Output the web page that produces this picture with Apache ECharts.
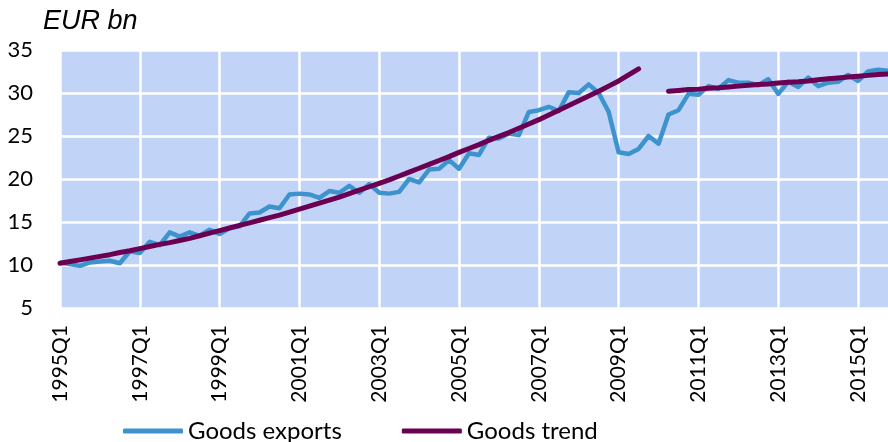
<!DOCTYPE html>
<html>
<head>
<meta charset="utf-8">
<script src="https://cdn.jsdelivr.net/npm/echarts@6/dist/echarts.min.js"></script>
<style>
  html, body { margin: 0; padding: 0; background: #fff; }
  #chart { width: 888px; height: 442px; }
</style>
</head>
<body>
<div id="chart"></div>
<script>
// quarters 1995Q1 .. 2015Q4
const years = [];
for (let y = 1995; y <= 2015; y++) years.push(y);
const quarters = [];
years.forEach(y => { for (let q = 1; q <= 4; q++) quarters.push(y + 'Q' + q); });

const goodsExports = [
  10.3, 10.1, 9.9, 10.3,
  10.4, 10.5, 10.2, 11.6,
  11.4, 12.7, 12.3, 13.8,
  13.3, 13.8, 13.4, 14.1,
  13.6, 14.3, 14.5, 16.0,
  16.1, 16.8, 16.6, 18.2,
  18.3, 18.2, 17.8, 18.6,
  18.4, 19.2, 18.4, 19.4,
  18.4, 18.3, 18.5, 20.0,
  19.6, 21.1, 21.2, 22.2,
  21.2, 23.0, 22.8, 24.8,
  24.7, 25.3, 25.1, 27.8,
  28.0, 28.4, 27.9, 30.1,
  30.0, 31.0, 30.0, 27.8,
  23.1, 22.9, 23.5, 25.0,
  24.1, 27.5, 28.0, 29.9,
  29.8, 30.8, 30.5, 31.5,
  31.2, 31.2, 30.9, 31.6,
  29.9, 31.3, 30.7, 31.8,
  30.8, 31.2, 31.3, 32.1,
  31.4, 32.5, 32.7, 32.6
];

const goodsTrend = [
  10.2, 10.4, 10.6, 10.8,
  11.0, 11.2, 11.45, 11.65,
  11.9, 12.15, 12.4, 12.6,
  12.85, 13.1, 13.4, 13.7,
  14.0, 14.3, 14.6, 14.9,
  15.2, 15.5, 15.8, 16.15,
  16.5, 16.85, 17.2, 17.55,
  17.9, 18.3, 18.7, 19.1,
  19.5, 19.9, 20.35, 20.8,
  21.25, 21.7, 22.15, 22.6,
  23.1, 23.55, 24.0, 24.5,
  24.95, 25.4, 25.9, 26.4,
  26.9, 27.45, 28.0, 28.55,
  29.1, 29.65, 30.2, 30.8,
  31.4, 32.1, 32.8, null,
  null, 30.2, 30.3, 30.4,
  30.45, 30.55, 30.6, 30.7,
  30.8, 30.9, 31.0, 31.05,
  31.15, 31.25, 31.3, 31.4,
  31.55, 31.65, 31.75, 31.85,
  31.95, 32.05, 32.15, 32.2
];

const yTicks = [5, 10, 15, 20, 25, 30, 35];

const font = 'Lato, "Liberation Sans", sans-serif';

const chart = echarts.init(document.getElementById('chart'));
chart.setOption({
  animation: false,
  title: {
    text: 'EUR bn',
    left: 38,
    top: 3,
    textStyle: {
      fontFamily: '"Liberation Sans", Arial, sans-serif',
      fontStyle: 'italic',
      fontWeight: 'normal',
      fontSize: 27,
      color: '#000'
    }
  },
  grid: {
    left: 60,
    right: -2,
    top: 50,
    height: 258,
    show: true,
    backgroundColor: '#C1D4F7',
    borderWidth: 0
  },
  legend: {
    left: 118,
    top: 414,
    itemWidth: 60,
    itemHeight: 5,
    itemGap: 60,
    icon: 'roundRect',
    textStyle: { fontFamily: font, fontSize: 24, color: '#000' },
    data: ['Goods exports', 'Goods trend']
  },
  xAxis: {
    type: 'category',
    data: quarters,
    boundaryGap: false,
    axisLine: { show: false },
    axisTick: { show: false },
    axisLabel: {
      interval: 7,
      rotate: 90,
      margin: 17,
      fontFamily: font,
      fontSize: 21,
      color: '#000'
    },
    splitLine: {
      show: true,
      interval: 7,
      lineStyle: { color: '#fff', width: 2.5 }
    }
  },
  yAxis: {
    type: 'value',
    min: yTicks[0],
    max: yTicks[yTicks.length - 1],
    interval: 5,
    axisLine: { show: false },
    axisTick: { show: false },
    axisLabel: {
      margin: 27,
      fontFamily: font,
      fontSize: 22,
      color: '#000'
    },
    splitLine: { lineStyle: { color: '#fff', width: 2.5 } }
  },
  series: [
    {
      name: 'Goods exports',
      type: 'line',
      data: goodsExports,
      symbol: 'none',
      color: '#3D93CD',
      lineStyle: { width: 4.5, color: '#3D93CD', join: 'round' }
    },
    {
      name: 'Goods trend',
      type: 'line',
      data: goodsTrend,
      symbol: 'none',
      color: '#6B0052',
      lineStyle: { width: 5, color: '#6B0052', cap: 'round', join: 'round' }
    }
  ]
});
</script>
</body>
</html>
